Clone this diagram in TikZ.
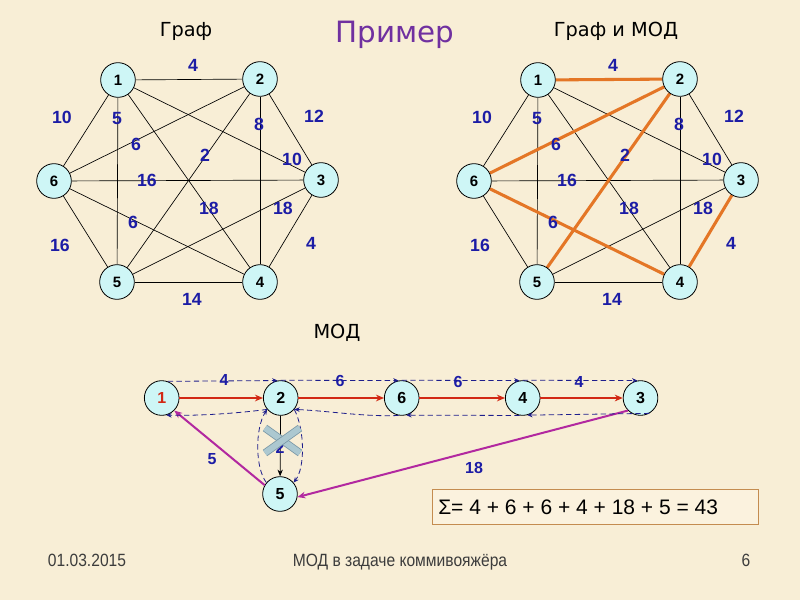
\documentclass[tikz,border=0pt]{standalone}
\usepackage{fontspec}
\setmainfont{Liberation Sans}
\newfontfamily\dejavu{DejaVu Sans}
\newfontfamily\narrowfont[FakeStretch=0.88]{Liberation Sans}
\usetikzlibrary{arrows.meta}
\definecolor{bgc}{RGB}{248,238,214}
\definecolor{nodec}{RGB}{206,246,246}
\definecolor{wblue}{RGB}{28,28,165}
\definecolor{orangec}{RGB}{228,118,38}
\definecolor{titlep}{RGB}{112,48,160}
\definecolor{redc}{RGB}{210,40,20}
\definecolor{magc}{RGB}{178,40,160}
\definecolor{dashblue}{RGB}{30,30,140}
\definecolor{crossdark}{RGB}{120,150,165}
\definecolor{crosslight}{RGB}{172,200,208}
\definecolor{boxbrown}{RGB}{196,140,80}
\definecolor{boxfill}{RGB}{251,242,222}
\definecolor{footgray}{RGB}{60,60,60}
\pgfdeclarelayer{bg}
\pgfdeclarelayer{edges}
\pgfsetlayers{bg,edges,main}
\begin{document}
\begin{tikzpicture}[x=0.75pt,y=-0.75pt,
  vert/.style={circle,draw=black,line width=0.6pt,fill=nodec,minimum size=26pt,inner sep=0pt,
    font=\fontsize{11.25}{13}\selectfont\bfseries},
  vertb/.style={vert,font=\fontsize{12}{14}\selectfont\bfseries},
  wlab/.style={text=wblue,inner sep=0pt,font=\fontsize{13.25}{15}\selectfont\bfseries},
  wlabs/.style={text=wblue,inner sep=0pt,font=\fontsize{12}{14}\selectfont\bfseries},
  gedge/.style={draw=black,line width=0.5pt},
  modedge/.style={draw=orangec,line width=2.3pt},
  redarr/.style={draw=redc,line width=1.3pt,-{Stealth[length=6pt,width=5pt]}},
  blkarr/.style={draw=black,line width=0.6pt,-{Stealth[length=5pt,width=4pt]}},
  magarr/.style={draw=magc,line width=1.5pt,-{Stealth[length=6pt,width=5pt]}},
  dashc/.style={draw=dashblue,line width=0.6pt,dash pattern=on 4pt off 2.5pt,-{Stealth[length=4pt,width=3.5pt]}},
  crossbar/.style={draw=crossdark,line width=0.6pt,double=crosslight,double distance=4.5pt},
  ttl/.style={inner sep=0pt,font=\dejavu\fontsize{14.5}{17}\selectfont},
  foot/.style={inner sep=0pt,anchor=base,text=footgray,font=\narrowfont\fontsize{13.3}{15}\selectfont},
  sumframe/.style={draw=boxbrown,fill=boxfill,line width=0.8pt,minimum width=244pt,minimum height=26pt,inner sep=0pt},
  sumtext/.style={inner sep=0pt,anchor=west,font=\fontsize{15.75}{18}\selectfont}
]
\begin{pgfonlayer}{bg}
\fill[bgc] (0,0) rectangle (800,600);
\end{pgfonlayer}
\useasboundingbox (0,0) rectangle (800,600);

% titles
\node[ttl] (tg) at (186,31) {Граф};
\node[ttl,text=titlep,font=\dejavu\fontsize{22}{26}\selectfont] (tp) at (395,35) {Пример};
\node[ttl] (tgm) at (616,31) {Граф и МОД};
\node[ttl] (tm) at (337,333) {МОД};

% two graphs
\foreach \dx/\p in {0/a,420/b}{
  \node[vert] (\p1) at (118+\dx,80) {1};
  \node[vert] (\p2) at (260+\dx,79) {2};
  \node[vert] (\p3) at (321+\dx,180) {3};
  \node[vert] (\p4) at (260+\dx,282) {4};
  \node[vert] (\p5) at (117+\dx,282) {5};
  \node[vert] (\p6) at (54+\dx,181) {6};
  \begin{pgfonlayer}{edges}
  \foreach \u/\v in {1/2,1/3,1/4,1/5,1/6,2/3,2/4,2/5,2/6,3/4,3/5,3/6,4/5,4/6,5/6}
    \draw[gedge] (\p\u) -- (\p\v);
  \end{pgfonlayer}
  \foreach \lx/\ly/\t/\n in {193/65/4/1,62/117/10/2,117/119/5/3,136/144/6/4,205/155/2/5,
      259/124/8/6,314/116/12/7,292/159/10/8,147/180/16/9,209/208/18/10,283/208/18/11,
      133/222/6/12,60/245/16/13,311/243/4/14,192/299/14/15}
    \node[wlab] (w\p\n) at (\lx+\dx,\ly) {\t};
}
\begin{pgfonlayer}{edges}
\draw[modedge] (b1) -- (b2);
\draw[modedge] (b2) -- (b6);
\draw[modedge] (b2) -- (b5);
\draw[modedge] (b6) -- (b4);
\draw[modedge] (b3) -- (b4);
\end{pgfonlayer}

% MOD chain
\node[vertb] (m1) at (161.7,398) {\textcolor{redc}{1}};
\node[vertb] (m2) at (280.7,398) {2};
\node[vertb] (m6) at (401.7,398) {6};
\node[vertb] (m4) at (522.7,398) {4};
\node[vertb] (m3) at (640.5,398) {3};
\node[vertb] (m5) at (280,494) {5};

\draw[redarr] (m1) -- (m2);
\draw[redarr] (m2) -- (m6);
\draw[redarr] (m6) -- (m4);
\draw[redarr] (m4) -- (m3);
\draw[blkarr] (m2) -- (m5);
\draw[magarr] (m5.150) -- (m1.-45);
\draw[magarr] (m3.-135) -- (m5.-10);

% traversal (dashed)
\draw[dashc] (m1.70) -- (m2.100);
\draw[dashc] (m2.north) -- (m6.100);
\draw[dashc] (m6.north) -- (m4.100);
\draw[dashc] (m4.north) -- (m3.100);
\draw[dashc] (m3.-60) -- (m4.-75);
\draw[dashc] (m4.-100) -- (m6.-75);
\draw[dashc] (m6.-100) .. controls (365,417) and (330,411) .. (m2.-40);
\draw[dashc] (m2.-40) .. controls (305,430) and (305,468) .. (m5.40);
\draw[dashc] (m5.140) .. controls (255,468) and (255,428) .. (m2.-140);
\draw[dashc] (m2.-140) .. controls (240,413) and (200,416) .. (m1.-75);

% chain labels
\node[wlabs] (c1) at (224,380) {4};
\node[wlabs] (c2) at (340,381) {6};
\node[wlabs] (c3) at (458,382) {6};
\node[wlabs] (c4) at (579,382) {4};
\node[wlabs] (c5) at (212,459) {5};
\node[wlabs] (c6) at (474,468) {18};
\node[wlabs] (c7) at (280,448) {2};

% cross
\draw[crossbar] (265,428) -- (300,453);
\draw[crossbar] (300,428) -- (265,453);

% sum box
\node[sumframe] (sumbox) at (595.5,507) {};
\node[sumtext] (sum) at (438,507) {Σ= 4 + 6 + 6 + 4 + 18 + 5 = 43};

% footer
\node[foot] (f1) at (87,566) {01.03.2015};
\node[foot] (f2) at (400,566) {МОД в задаче коммивояжёра};
\node[foot] (f3) at (746,566) {6};
\end{tikzpicture}
\end{document}
